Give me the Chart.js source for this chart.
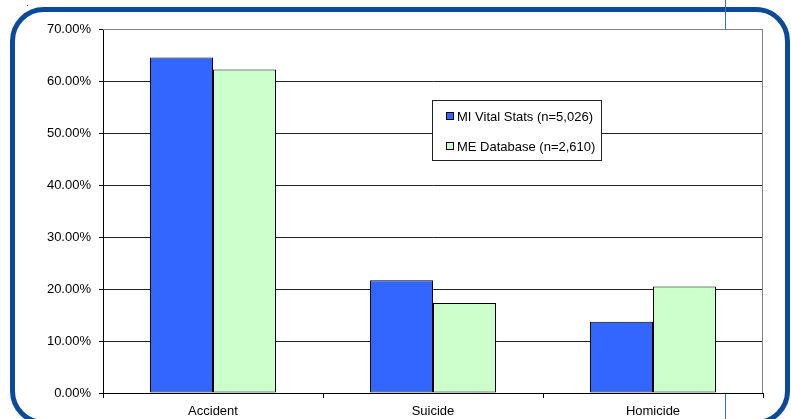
<!DOCTYPE html>
<html>
<head>
<meta charset="utf-8">
<script src="https://cdn.jsdelivr.net/npm/chart.js@4.4.1/dist/chart.umd.min.js"></script>
<style>
  html, body { margin: 0; padding: 0; background: #fff; overflow: hidden; }
  #wrap { position: relative; width: 791px; height: 419px; overflow: hidden; }
  #frame {
    position: absolute; left: 10px; top: 7px; width: 780px; height: 418px;
    border: 5px solid #0b4a98; border-radius: 34px; box-sizing: border-box;
  }
  .vline { position: absolute; left: 725px; width: 1px; background: #3b6db5; }
  #dot { position: absolute; left: 27px; top: 5px; width: 1px; height: 1px; background: #555; }
  canvas { position: absolute; left: 0; top: 0; }
</style>
</head>
<body>
<div id="wrap">
  <div id="frame"></div>
  <div class="vline" style="top:0;height:29px"></div>
  <div class="vline" style="top:393px;height:26px"></div>
  <div id="dot"></div>
  <canvas id="grafico" width="791" height="419"></canvas>
</div>
<script>
const categorias = ["Accident", "Suicide", "Homicide"];
const viValores = [64.5, 21.7, 13.7];
const meValores = [62.2, 17.3, 20.5];
const seriesNomes = ["MI Vital Stats (n=5,026)", "ME Database (n=2,610)"];
const coresSeries = ["#3366ff", "#ccffcc"];

// moldura cinza do grafico + caixa de legenda
const plotExtras = {
  id: "plotExtras",
  beforeDatasetsDraw(chart) {
    const { ctx, chartArea: a } = chart;
    ctx.save();
    ctx.strokeStyle = "#808080";
    ctx.lineWidth = 1;
    ctx.beginPath();
    ctx.moveTo(a.left, a.top + 0.5);
    ctx.lineTo(a.right - 0.5, a.top + 0.5);
    ctx.lineTo(a.right - 0.5, a.bottom);
    ctx.stroke();
    ctx.restore();
  },
  afterDraw(chart) {
    const { ctx } = chart;
    const x = 432, y = 100, w = 169, h = 60;
    ctx.save();
    ctx.fillStyle = "#fff";
    ctx.fillRect(x, y, w, h);
    ctx.strokeStyle = "#222";
    ctx.lineWidth = 1;
    ctx.strokeRect(x + 0.5, y + 0.5, w, h);
    ctx.font = "13px 'Liberation Sans', Arial, sans-serif";
    ctx.textBaseline = "middle";
    chart.data.datasets.forEach((ds, i) => {
      const cy = y + 16 + i * 30;
      ctx.fillStyle = ds.backgroundColor;
      ctx.fillRect(x + 14, cy - 4, 8, 8);
      ctx.strokeStyle = "#000";
      ctx.strokeRect(x + 14.5, cy - 3.5, 7, 7);
      ctx.fillStyle = "#000";
      ctx.fillText(ds.label, x + 25, cy + 1);
    });
    ctx.restore();
  },
};

const fonte = { family: "'Liberation Sans', Arial, sans-serif", size: 13 };

new Chart(document.getElementById("grafico"), {
  type: "bar",
  data: {
    labels: categorias,
    datasets: [
      {
        label: seriesNomes[0],
        data: viValores,
        backgroundColor: coresSeries[0],
        borderColor: "#000",
        borderWidth: 1,
        borderSkipped: false,
      },
      {
        label: seriesNomes[1],
        data: meValores,
        backgroundColor: coresSeries[1],
        borderColor: "#000",
        borderWidth: 1,
        borderSkipped: false,
      },
    ],
  },
  options: {
    responsive: false,
    animation: false,
    layout: { padding: { top: 29, right: 28, left: 0, bottom: 0 } },
    datasets: { bar: { categoryPercentage: 0.573, barPercentage: 1.0 } },
    plugins: { legend: { display: false }, tooltip: { enabled: false } },
    scales: {
      y: {
        min: 0,
        max: 70,
        ticks: {
          stepSize: 10,
          color: "#000",
          font: fonte,
          padding: 8,
          callback: (v) => v.toFixed(2) + "%",
        },
        grid: {
          color: (c) => (c.tick && c.tick.value === 70 ? "#808080" : "#222"),
          tickLength: 4,
          tickColor: "#000",
        },
        border: { color: "#000", width: 1 },
        afterFit: (s) => { s.width = 103; },
      },
      x: {
        ticks: { color: "#000", font: fonte, padding: 6 },
        grid: {
          offset: true,
          drawOnChartArea: false,
          tickLength: 5,
          tickColor: "#000",
        },
        border: { color: "#000", width: 1 },
        afterFit: (s) => { s.height = 26; },
      },
    },
  },
  plugins: [plotExtras],
});
</script>
</body>
</html>
